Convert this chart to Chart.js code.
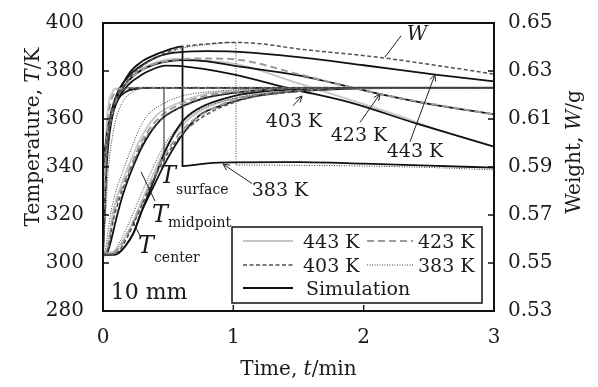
<!DOCTYPE html>
<html>
<head>
<meta charset="utf-8">
<script src="https://cdn.jsdelivr.net/npm/chart.js@4.4.1/dist/chart.umd.min.js"></script>
<style>
  html, body { margin: 0; padding: 0; background: #fff; }
  #wrap { width: 598px; height: 387px; }
</style>
</head>
<body>
<div id="wrap"><canvas id="c" width="598" height="387"></canvas></div>
<script>
// ---- axis ticks ----
const timeTicks = [0, 1, 2, 3];
const tempTicks = [280, 300, 320, 340, 360, 380, 400];
const weightTicks = [0.53, 0.55, 0.57, 0.59, 0.61, 0.63, 0.65];

// ---- temperature [time min, T K] : surface ----
const surfaceExp443 = [[0,304],[0.01,330],[0.02,350],[0.04,365],[0.07,371],[0.1,372.8],[0.2,373],[3,373]];
const surfaceExp423 = [[0,304],[0.01,325],[0.025,348],[0.05,364],[0.09,371],[0.15,372.8],[0.3,373],[3,373]];
const surfaceExp403 = [[0,303.5],[0.015,322],[0.03,343],[0.06,361],[0.1,369.5],[0.18,372.7],[0.3,373],[3,373]];
const surfaceExp383 = [[0,303],[0.02,320],[0.04,338],[0.08,355],[0.14,366],[0.22,371],[0.35,372.8],[0.6,373],[3,373]];
const surfaceSim = [[0,303],[0.01,318],[0.02,332],[0.03,342],[0.05,354],[0.08,363],[0.12,368.5],[0.18,371.5],[0.25,372.6],[0.35,373],[3,373]];

// ---- temperature : midpoint ----
const midExp443 = [[0,303.5],[0.03,306],[0.05,312],[0.08,322],[0.15,334],[0.23,345],[0.31,354],[0.42,362],[0.55,366],[0.75,370],[1.05,372],[1.5,373],[3,373]];
const midExp423 = [[0,303],[0.03,305],[0.05,310],[0.08,320],[0.15,332],[0.23,342.5],[0.31,352],[0.45,361.5],[0.57,365.5],[0.78,369.6],[1.1,371.6],[1.6,373],[3,373]];
const midExp403 = [[0,303],[0.03,304.5],[0.05,309],[0.08,318],[0.15,330.5],[0.23,341],[0.31,350.5],[0.46,360.5],[0.6,365],[0.8,369],[1.15,371.5],[1.7,373],[3,373]];
const midExp383 = [[0,303],[0.02,306],[0.04,314],[0.06,321],[0.1,330],[0.15,338],[0.22,348],[0.28,356],[0.34,361.5],[0.45,366],[0.6,369.5],[0.85,371.5],[1.2,372.6],[1.7,373],[3,373]];
const midSim = [[0,303],[0.03,304],[0.06,309],[0.1,318],[0.15,328],[0.23,340],[0.31,349.5],[0.44,359.5],[0.58,364.5],[0.8,369],[1.1,371.5],[1.6,372.8],[2.2,373],[3,373]];

// ---- temperature : center ----
const centerExp443 = [[0,304.5],[0.07,304.5],[0.11,306],[0.16,310],[0.22,316],[0.29,325],[0.37,335],[0.47,347],[0.6,357],[0.75,363.5],[1.0,368.5],[1.4,371.5],[1.9,373],[3,373]];
const centerExp423 = [[0,304],[0.08,304],[0.12,306],[0.17,310],[0.23,316.5],[0.3,325],[0.38,334.5],[0.48,345.5],[0.62,356],[0.78,362.5],[1.05,368.5],[1.45,371.5],[2.0,373],[3,373]];
const centerExp403 = [[0,303.5],[0.08,303.5],[0.12,305],[0.18,310],[0.24,317],[0.31,325.5],[0.39,335],[0.5,346],[0.64,355.5],[0.8,362],[1.1,368.5],[1.5,371.5],[2.0,373],[3,373]];
const centerExp383 = [[0,303],[0.06,303.5],[0.1,306],[0.15,311],[0.21,318],[0.28,327],[0.36,337],[0.46,348],[0.58,357],[0.73,363.5],[1.0,368.5],[1.4,371.5],[1.9,373],[3,373]];
const centerSimA = [[0,303.5],[0.08,303.5],[0.12,304.2],[0.17,307],[0.23,312],[0.3,322],[0.38,333],[0.48,347],[0.61,359],[0.72,364],[1.0,369.5],[1.3,371.8],[1.7,372.8],[2.2,373],[3,373]];
const centerSimB = [[0,303.5],[0.08,303.5],[0.12,304.2],[0.17,307],[0.23,312],[0.3,322],[0.38,331],[0.47,341],[0.59,352],[0.74,361.5],[0.9,365.5],[1.18,369.6],[1.5,371.6],[2.0,372.8],[2.5,373],[3,373]];

// ---- weight [time min, W g] ----
const weightExp443 = [[0,0.589],[0.02,0.597],[0.05,0.607],[0.1,0.6175],[0.2,0.626],[0.3,0.631],[0.4,0.6335],[0.55,0.635],[0.75,0.6345],[1.05,0.6326],[1.5,0.6248],[2.25,0.6117],[2.6,0.605],[3.0,0.5985]];
const weightExp423 = [[0,0.589],[0.02,0.5975],[0.05,0.607],[0.1,0.6175],[0.2,0.626],[0.3,0.6305],[0.4,0.633],[0.5,0.6343],[0.61,0.635],[0.8,0.6352],[1.05,0.6346],[1.5,0.6287],[2.1,0.6207],[2.5,0.6165],[3.0,0.6119]];
const weightExp403 = [[0,0.589],[0.02,0.597],[0.05,0.607],[0.1,0.617],[0.2,0.627],[0.3,0.632],[0.4,0.6355],[0.5,0.638],[0.61,0.640],[0.8,0.6413],[1.0,0.6419],[1.2,0.6414],[1.5,0.6392],[2.1,0.6358],[2.6,0.632],[3.0,0.6287]];
const weightExp383 = [[0,0.589],[0.02,0.597],[0.05,0.6065],[0.1,0.6165],[0.2,0.6265],[0.3,0.632],[0.4,0.6355],[0.5,0.6375],[0.61,0.6395],[0.8,0.641],[1.02,0.6419],[1.02,0.5908],[1.5,0.5907],[2.0,0.5904],[2.5,0.5898],[3.0,0.5888]];
const weightSim443 = [[0,0.589],[0.02,0.5985],[0.05,0.609],[0.1,0.6195],[0.2,0.628],[0.3,0.6325],[0.4,0.6355],[0.5,0.6372],[0.61,0.638],[0.8,0.6383],[1.0,0.6381],[1.5,0.6358],[2.0,0.6324],[2.55,0.6285],[3.0,0.6257]];
const weightSim423 = [[0,0.589],[0.02,0.598],[0.05,0.608],[0.1,0.618],[0.2,0.6262],[0.3,0.6305],[0.4,0.6328],[0.5,0.634],[0.61,0.6345],[0.8,0.634],[1.0,0.6322],[1.5,0.6282],[2.1,0.6207],[2.5,0.6163],[3.0,0.612]];
const weightSim403 = [[0,0.589],[0.02,0.597],[0.05,0.607],[0.1,0.6165],[0.2,0.6245],[0.3,0.6285],[0.36,0.6302],[0.48,0.6322],[0.6,0.632],[0.97,0.6289],[1.45,0.6225],[1.9,0.6168],[2.4,0.6082],[3.0,0.5985]];
const weightSim383 = [[0,0.589],[0.02,0.5993],[0.05,0.61],[0.1,0.6185],[0.2,0.629],[0.3,0.634],[0.36,0.6358],[0.49,0.6386],[0.61,0.6403],[0.61,0.5904],[0.8,0.5915],[1.0,0.5919],[1.5,0.592],[2.0,0.5914],[2.5,0.5906],[3.0,0.5897]];

// ---- line styles (layer: higher numbers sit underneath) ----
const SERIF = '"DejaVu Serif", "Liberation Serif", serif';
const styles = {
  e443: { borderColor: '#c6c6c6', borderWidth: 1.8, borderDash: [], order: 5 },
  sim:  { borderColor: '#111111', borderWidth: 1.8, borderDash: [], order: 4 },
  e423: { borderColor: '#9c9c9c', borderWidth: 2, borderDash: [7, 4], order: 3 },
  e403: { borderColor: '#505050', borderWidth: 1.5, borderDash: [4, 2.5], order: 2 },
  e383: { borderColor: '#3a3a3a', borderWidth: 1, borderDash: [1, 1.5], order: 1 }
};

function series(points, style, axis) {
  return Object.assign({
    data: points.map(([t, v]) => ({ x: t, y: v })),
    yAxisID: axis,
    pointRadius: 0,
    fill: false,
    cubicInterpolationMode: 'monotone'
  }, styles[style]);
}

const datasets = [
  series(surfaceExp443, 'e443', 'y'), series(midExp443, 'e443', 'y'), series(centerExp443, 'e443', 'y'), series(weightExp443, 'e443', 'y2'),
  series(surfaceExp423, 'e423', 'y'), series(midExp423, 'e423', 'y'), series(centerExp423, 'e423', 'y'), series(weightExp423, 'e423', 'y2'),
  series(surfaceExp403, 'e403', 'y'), series(midExp403, 'e403', 'y'), series(centerExp403, 'e403', 'y'), series(weightExp403, 'e403', 'y2'),
  series(surfaceExp383, 'e383', 'y'), series(midExp383, 'e383', 'y'), series(centerExp383, 'e383', 'y'), series(weightExp383, 'e383', 'y2'),
  series(surfaceSim, 'sim', 'y'), series(midSim, 'sim', 'y'), series(centerSimA, 'sim', 'y'), series(centerSimB, 'sim', 'y'),
  series(weightSim443, 'sim', 'y2'), series(weightSim423, 'sim', 'y2'), series(weightSim403, 'sim', 'y2'), series(weightSim383, 'sim', 'y2')
];

// ---- drawing helpers ----
function richText(ctx, parts, x, y, align) {
  let w = 0;
  parts.forEach(p => { ctx.font = p.font; w += ctx.measureText(p.text).width; });
  let cx = align === 'center' ? x - w / 2 : x;
  ctx.textBaseline = 'alphabetic';
  ctx.textAlign = 'left';
  parts.forEach(p => {
    ctx.font = p.font;
    ctx.fillText(p.text, cx, y + (p.dy || 0));
    cx += ctx.measureText(p.text).width;
  });
}

function arrow(ctx, x0, y0, x1, y1, head) {
  ctx.beginPath();
  ctx.moveTo(x0, y0);
  ctx.lineTo(x1, y1);
  ctx.stroke();
  if (head) {
    const ang = Math.atan2(y1 - y0, x1 - x0);
    const L = 7, spread = 0.45;
    ctx.beginPath();
    ctx.moveTo(x1 - L * Math.cos(ang - spread), y1 - L * Math.sin(ang - spread));
    ctx.lineTo(x1, y1);
    ctx.lineTo(x1 - L * Math.cos(ang + spread), y1 - L * Math.sin(ang + spread));
    ctx.stroke();
  }
}

const decor = {
  id: 'decor',
  afterDatasetsDraw(chart) {
    const { ctx, chartArea: a, scales } = chart;
    const sx = scales.x, sy = scales.y, sw = scales.y2;
    const P = (t, T) => [sx.getPixelForValue(t), sy.getPixelForValue(T)];
    ctx.save();

    // frame and inward ticks
    ctx.strokeStyle = '#111';
    ctx.lineWidth = 2;
    ctx.strokeRect(a.left, a.top, a.right - a.left, a.bottom - a.top);
    ctx.lineWidth = 1.4;
    ctx.beginPath();
    timeTicks.forEach(v => { const px = sx.getPixelForValue(v); ctx.moveTo(px, a.bottom); ctx.lineTo(px, a.bottom - 6); });
    tempTicks.forEach(v => { const py = sy.getPixelForValue(v); ctx.moveTo(a.left, py); ctx.lineTo(a.left + 6, py); });
    weightTicks.forEach(v => { const py = sw.getPixelForValue(v); ctx.moveTo(a.right, py); ctx.lineTo(a.right - 6, py); });
    ctx.stroke();

    // pointers
    ctx.strokeStyle = '#222';
    ctx.lineWidth = 1;
    const ptr = (t0, T0, t1, T1, head) => { const [x0, y0] = P(t0, T0); const [x1, y1] = P(t1, T1); arrow(ctx, x0, y0, x1, y1, head); };
    ptr(2.287, 394.7, 2.164, 385.8, false);   // W
    ptr(1.458, 365.5, 1.527, 369.6, true);    // 403 K
    ptr(1.972, 358.6, 2.125, 370.4, true);    // 423 K
    ptr(2.355, 350.5, 2.547, 378.5, true);    // 443 K
    ptr(1.143, 333.1, 0.921, 341.2, true);    // 383 K
    ptr(0.468, 340.4, 0.468, 372.6, false);   // T surface
    ptr(0.399, 325.8, 0.292, 338.0, false);   // T midpoint
    ptr(0.292, 310.4, 0.230, 317.3, false);   // T center

    // labels
    ctx.fillStyle = '#1a1a1a';
    const lab = `19px ${SERIF}`;
    let p;
    p = P(2.409, 393.0); richText(ctx, [{ text: 'W', font: `italic 20px ${SERIF}` }], p[0], p[1], 'center');
    p = P(1.466, 356.6); richText(ctx, [{ text: '403 K', font: lab }], p[0], p[1], 'center');
    p = P(1.964, 350.9); richText(ctx, [{ text: '423 K', font: lab }], p[0], p[1], 'center');
    p = P(2.394, 344.0); richText(ctx, [{ text: '443 K', font: lab }], p[0], p[1], 'center');
    p = P(1.358, 327.8); richText(ctx, [{ text: '383 K', font: lab }], p[0], p[1], 'center');

    const bigT = `italic 24px ${SERIF}`, sub = `14px ${SERIF}`;
    richText(ctx, [{ text: 'T', font: bigT }, { text: 'surface', font: sub, dy: 11 }], 160, 183, 'left');
    richText(ctx, [{ text: 'T', font: bigT }, { text: 'midpoint', font: sub, dy: 5 }], 152, 222, 'left');
    richText(ctx, [{ text: 'T', font: bigT }, { text: 'center', font: sub, dy: 9 }], 138, 253, 'left');
    richText(ctx, [{ text: '10 mm', font: `22px ${SERIF}` }], 149, 299, 'center');

    // legend box
    const L = { left: a.left + 129, top: a.top + 204, right: a.right - 12, bottom: a.top + 280 };
    ctx.fillStyle = '#fff';
    ctx.fillRect(L.left, L.top, L.right - L.left, L.bottom - L.top);
    ctx.strokeStyle = '#111';
    ctx.lineWidth = 1.5;
    ctx.strokeRect(L.left, L.top, L.right - L.left, L.bottom - L.top);
    const items = [
      { label: '443 K', s: 'e443', x0: 11, x1: 61, tx: 71, row: 0 },
      { label: '423 K', s: 'e423', x0: 135, x1: 181, tx: 186, row: 0 },
      { label: '403 K', s: 'e403', x0: 11, x1: 61, tx: 71, row: 1 },
      { label: '383 K', s: 'e383', x0: 135, x1: 181, tx: 186, row: 1 },
      { label: 'Simulation', s: 'sim', x0: 11, x1: 61, tx: 74, row: 2 }
    ];
    const rowY = [14, 38, 61];
    items.forEach(it => {
      const st = styles[it.s];
      const yy = L.top + rowY[it.row];
      ctx.save();
      ctx.strokeStyle = st.borderColor;
      ctx.lineWidth = st.borderWidth;
      ctx.setLineDash(st.borderDash);
      ctx.beginPath();
      ctx.moveTo(L.left + it.x0, yy);
      ctx.lineTo(L.left + it.x1, yy);
      ctx.stroke();
      ctx.restore();
      ctx.fillStyle = '#1a1a1a';
      richText(ctx, [{ text: it.label, font: lab }], L.left + it.tx, yy + 7, 'left');
    });
    ctx.restore();
  },
  afterDraw(chart) {
    const { ctx, chartArea: a } = chart;
    ctx.save();
    ctx.fillStyle = '#1a1a1a';
    const f = `20px ${SERIF}`, fi = `italic 20px ${SERIF}`;
    // bottom title
    richText(ctx, [{ text: 'Time, ', font: f }, { text: 't', font: fi }, { text: '/min', font: f }], (a.left + a.right) / 2, 375, 'center');
    // left title
    ctx.save();
    ctx.translate(39, 137);
    ctx.rotate(-Math.PI / 2);
    richText(ctx, [{ text: 'Temperature, ', font: f }, { text: 'T', font: fi }, { text: '/K', font: f }], 0, 0, 'center');
    ctx.restore();
    // right title
    ctx.save();
    ctx.translate(580, 152);
    ctx.rotate(-Math.PI / 2);
    richText(ctx, [{ text: 'Weight, ', font: f }, { text: 'W', font: fi }, { text: '/g', font: f }], 0, 0, 'center');
    ctx.restore();
    ctx.restore();
  }
};

const tickFont = { family: SERIF, size: 20 };

new Chart(document.getElementById('c'), {
  type: 'line',
  data: { datasets },
  options: {
    responsive: false,
    devicePixelRatio: 1,
    animation: false,
    layout: { padding: { top: 15, left: 0, right: 0, bottom: 0 } },
    plugins: { legend: { display: false }, tooltip: { enabled: false }, title: { display: false } },
    scales: {
      x: {
        type: 'linear', position: 'bottom', min: 0, max: 3,
        grid: { display: false }, border: { display: false },
        afterBuildTicks: s => { s.ticks = timeTicks.map(v => ({ value: v })); },
        ticks: { font: tickFont, color: '#1a1a1a', padding: 7, maxRotation: 0, callback: v => String(v) },
        afterFit: s => { s.height = 76; }
      },
      y: {
        type: 'linear', position: 'left', min: 280, max: 400,
        grid: { display: false }, border: { display: false },
        afterBuildTicks: s => { s.ticks = tempTicks.map(v => ({ value: v })); },
        ticks: { font: tickFont, color: '#1a1a1a', padding: 11, callback: v => String(v) },
        afterFit: s => { s.width = 103; }
      },
      y2: {
        type: 'linear', position: 'right', min: 0.53, max: 0.65,
        grid: { display: false }, border: { display: false },
        afterBuildTicks: s => { s.ticks = weightTicks.map(v => ({ value: v })); },
        ticks: { font: tickFont, color: '#1a1a1a', padding: 6, callback: v => v.toFixed(2) },
        afterFit: s => { s.width = 104; }
      }
    }
  },
  plugins: [decor]
});
</script>
</body>
</html>
